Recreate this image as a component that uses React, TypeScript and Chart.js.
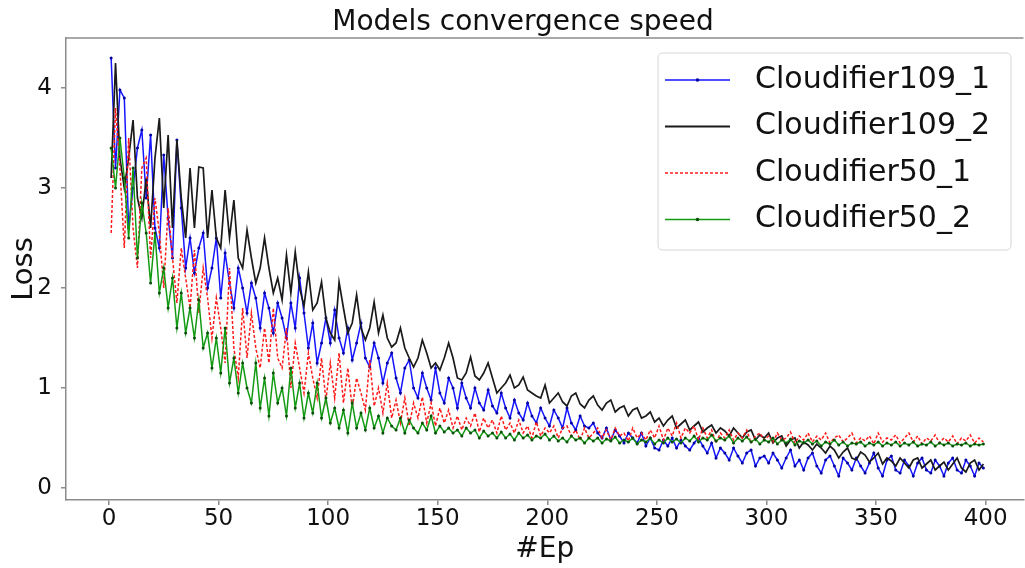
import React, { useEffect, useRef } from 'react';
import { Chart, registerables } from 'chart.js';

Chart.register(...registerables);

const FONT = 'DejaVu Sans';

const epochs = [
  1, 3, 5, 7, 9, 11, 13, 15, 17, 19, 21, 23, 25, 27, 29, 31, 33, 35, 37, 39,
  41, 43, 45, 47, 49, 51, 53, 55, 57, 59, 61, 63, 65, 67, 69, 71, 73, 75, 77, 79,
  81, 83, 85, 87, 89, 91, 93, 95, 97, 99, 101, 103, 105, 107, 109, 111, 113, 115, 117, 119,
  121, 123, 125, 127, 129, 131, 133, 135, 137, 139, 141, 143, 145, 147, 149, 151, 153, 155, 157, 159,
  161, 163, 165, 167, 169, 171, 173, 175, 177, 179, 181, 183, 185, 187, 189, 191, 193, 195, 197, 199,
  201, 203, 205, 207, 209, 211, 213, 215, 217, 219, 221, 223, 225, 227, 229, 231, 233, 235, 237, 239,
  241, 243, 245, 247, 249, 251, 253, 255, 257, 259, 261, 263, 265, 267, 269, 271, 273, 275, 277, 279,
  281, 283, 285, 287, 289, 291, 293, 295, 297, 299, 301, 303, 305, 307, 309, 311, 313, 315, 317, 319,
  321, 323, 325, 327, 329, 331, 333, 335, 337, 339, 341, 343, 345, 347, 349, 351, 353, 355, 357, 359,
  361, 363, 365, 367, 369, 371, 373, 375, 377, 379, 381, 383, 385, 387, 389, 391, 393, 395, 397, 399,
];

const cloudifier109_1 = [
  4.3, 3.2, 3.98, 3.9, 2.6, 3.0, 3.4, 3.58, 2.9, 3.53,
  2.6, 2.4, 3.33, 2.7, 2.3, 3.48, 2.8, 2.2, 2.5, 2.15,
  2.4, 2.55, 2.0, 2.2, 2.5, 1.9, 2.35, 2.05, 1.8, 2.2,
  2.0, 1.75, 2.05, 1.9, 1.6, 1.95, 1.8, 1.55, 1.85, 1.7,
  1.5, 1.85, 1.6, 2.1, 1.75, 1.4, 1.65, 1.25, 1.45, 1.7,
  1.45, 1.78, 1.5, 1.35, 1.6, 1.28, 1.45, 1.65, 1.3, 1.21,
  1.45, 1.3, 1.05, 1.25, 1.35, 1.1, 0.95, 1.2, 1.28, 1.0,
  0.9, 1.15, 1.0, 0.88, 1.2, 0.95, 0.85, 1.1, 1.0, 0.8,
  1.05, 0.9, 0.8, 1.0, 0.85, 0.78, 0.98, 0.82, 0.75, 0.95,
  0.8, 0.7, 0.88, 0.75, 0.68, 0.85, 0.72, 0.65, 0.8, 0.7,
  0.62, 0.78, 0.7, 0.6, 0.8, 0.65, 0.58, 0.72, 0.62, 0.6,
  0.65, 0.55, 0.5, 0.6, 0.48, 0.58, 0.52, 0.45, 0.55, 0.5,
  0.45, 0.55, 0.42, 0.5, 0.4, 0.38, 0.48, 0.42, 0.5, 0.4,
  0.48, 0.42, 0.38, 0.45, 0.5, 0.42, 0.35, 0.45, 0.3, 0.4,
  0.35, 0.28, 0.4, 0.32, 0.25, 0.35, 0.38, 0.22, 0.3, 0.32,
  0.25, 0.35, 0.28, 0.2, 0.3, 0.38, 0.22, 0.28, 0.18, 0.3,
  0.35, 0.22, 0.15, 0.28, 0.32, 0.22, 0.12, 0.3, 0.25, 0.18,
  0.3, 0.22, 0.15, 0.25, 0.35, 0.2, 0.12, 0.28, 0.32, 0.18,
  0.15, 0.28, 0.22, 0.12, 0.25, 0.3, 0.18, 0.15, 0.28, 0.22,
  0.12, 0.25, 0.3, 0.18, 0.15, 0.28, 0.22, 0.12, 0.25, 0.2,
];

const cloudifier109_2 = [
  3.1, 4.25, 3.3, 3.0, 3.3, 3.68, 2.9, 2.7, 3.1, 2.6,
  3.3, 3.7, 2.8, 3.53, 2.6, 3.48, 2.9, 2.5, 3.2, 2.6,
  3.21, 3.2, 2.5, 2.98, 2.5, 2.4, 2.98, 2.5, 2.88, 2.3,
  2.2, 2.58, 2.3, 2.05, 2.2, 2.5, 2.2, 1.95, 2.1, 1.88,
  2.33, 1.95, 2.36, 2.0, 1.82, 2.16, 1.78, 1.85, 2.06, 1.7,
  1.55, 1.48, 2.06, 1.8, 1.55, 1.65, 1.93, 1.6, 1.48, 1.6,
  1.86, 1.55, 1.73, 1.5, 1.41, 1.45, 1.6, 1.4, 1.3, 1.21,
  1.3, 1.48, 1.35, 1.2, 1.25, 1.18, 1.3, 1.45, 1.3, 1.1,
  1.08, 1.15, 1.31, 1.12, 1.08, 1.15, 1.25, 1.1, 0.95, 1.0,
  1.05, 1.13, 1.0, 1.03, 1.11, 0.98, 0.95, 0.92, 0.9, 1.03,
  0.85, 0.9, 0.95, 0.86, 0.82, 0.92, 0.95, 0.84, 0.8, 0.88,
  0.92, 0.83, 0.78, 0.85, 0.88, 0.76, 0.8, 0.82, 0.72, 0.78,
  0.8, 0.7, 0.72, 0.76, 0.66, 0.7, 0.62, 0.68, 0.72, 0.6,
  0.64, 0.68, 0.58, 0.62, 0.66, 0.56, 0.6, 0.63, 0.55, 0.6,
  0.57, 0.52, 0.6, 0.55, 0.5, 0.56, 0.58, 0.48, 0.53, 0.5,
  0.55, 0.45, 0.5, 0.52, 0.42, 0.48, 0.5, 0.4, 0.46, 0.43,
  0.38, 0.44, 0.4, 0.35, 0.42, 0.38, 0.3, 0.36, 0.4, 0.3,
  0.28, 0.36, 0.33, 0.26, 0.3, 0.35, 0.24, 0.3, 0.27, 0.22,
  0.3, 0.25, 0.2, 0.28, 0.3, 0.2, 0.24, 0.28, 0.18, 0.22,
  0.26, 0.18, 0.24, 0.3, 0.2, 0.16, 0.25, 0.28, 0.18, 0.24,
];

const cloudifier50_1 = [
  2.55, 3.8, 3.2, 2.4, 3.5, 2.6, 2.2, 3.2, 3.3, 2.3,
  2.9, 2.55, 2.0, 2.8, 2.3, 1.85, 2.4, 2.1, 1.8, 2.38,
  1.75, 2.2, 1.9, 1.5, 1.9, 1.6, 1.25, 2.2, 1.4, 1.1,
  1.8, 1.3, 1.75, 1.4, 1.2, 1.6, 1.25, 1.8, 1.3, 1.2,
  1.6, 1.0, 1.45, 1.2, 0.95, 1.35, 1.1, 0.9, 1.3, 0.88,
  1.25, 0.9, 1.35, 0.85, 1.2, 0.8, 1.1, 0.95, 0.78, 1.28,
  0.82, 1.0, 0.75, 1.05, 0.7, 0.88, 0.65, 0.9, 0.62, 0.85,
  0.7, 0.91, 0.65, 0.85, 0.62, 0.8, 0.65, 0.78, 0.6, 0.72,
  0.58, 0.7, 0.62, 0.75, 0.56, 0.7, 0.6, 0.68, 0.55, 0.72,
  0.58, 0.65, 0.55, 0.68, 0.55, 0.62, 0.5, 0.66, 0.52, 0.6,
  0.55, 0.62, 0.5, 0.6, 0.62, 0.52, 0.58, 0.48, 0.6, 0.5,
  0.55, 0.6, 0.5, 0.58, 0.48, 0.6, 0.52, 0.55, 0.47, 0.6,
  0.5, 0.55, 0.48, 0.58, 0.5, 0.62, 0.48, 0.6, 0.52, 0.65,
  0.5, 0.6, 0.55, 0.62, 0.48, 0.6, 0.5, 0.58, 0.45, 0.55,
  0.5, 0.58, 0.48, 0.55, 0.5, 0.58, 0.45, 0.52, 0.55, 0.48,
  0.52, 0.46, 0.55, 0.48, 0.5, 0.56, 0.45, 0.52, 0.48, 0.55,
  0.46, 0.52, 0.48, 0.55, 0.45, 0.5, 0.53, 0.46, 0.5, 0.55,
  0.45, 0.5, 0.47, 0.52, 0.44, 0.55, 0.46, 0.5, 0.48, 0.53,
  0.45, 0.5, 0.55, 0.46, 0.52, 0.44, 0.5, 0.47, 0.53, 0.45,
  0.5, 0.46, 0.52, 0.44, 0.5, 0.47, 0.53, 0.45, 0.5, 0.46,
];

const cloudifier50_2 = [
  3.4, 3.0, 3.5, 3.1, 2.5, 3.2, 2.3, 2.85, 2.55, 2.05,
  2.55, 1.95, 2.2, 1.8, 2.1, 1.6, 1.95, 1.55, 1.8, 1.5,
  1.88, 1.4, 1.55, 1.2, 1.5, 1.15, 1.6, 1.05, 1.3, 0.95,
  1.25, 1.0, 0.85, 1.25, 0.8, 1.1, 0.72, 1.15, 0.85, 1.0,
  0.72, 1.2, 0.8, 1.05, 0.7, 0.95, 0.75, 1.05, 0.7, 0.9,
  0.65, 0.8, 0.6, 0.78, 0.55, 0.85, 0.6, 0.75, 0.58, 0.8,
  0.6, 0.72, 0.55, 0.7, 0.62, 0.58, 0.7, 0.55, 0.68, 0.6,
  0.55, 0.65, 0.58, 0.72, 0.55, 0.62, 0.56, 0.6, 0.55, 0.58,
  0.52, 0.6, 0.55, 0.58, 0.5, 0.57, 0.52, 0.55, 0.5, 0.56,
  0.5, 0.54, 0.48, 0.55, 0.5, 0.53, 0.48, 0.52, 0.5, 0.54,
  0.48, 0.52, 0.47, 0.5, 0.46, 0.52, 0.48, 0.5, 0.45, 0.5,
  0.47, 0.5, 0.45, 0.49, 0.47, 0.51, 0.45, 0.48, 0.46, 0.5,
  0.44, 0.48, 0.46, 0.5, 0.44, 0.48, 0.45, 0.5, 0.46, 0.49,
  0.45, 0.5, 0.47, 0.52, 0.46, 0.5, 0.48, 0.53, 0.47, 0.5,
  0.48, 0.52, 0.45, 0.5, 0.47, 0.51, 0.46, 0.49, 0.44, 0.48,
  0.46, 0.5, 0.44, 0.48, 0.45, 0.49, 0.43, 0.47, 0.45, 0.48,
  0.44, 0.47, 0.42, 0.46, 0.44, 0.48, 0.43, 0.46, 0.42, 0.45,
  0.44, 0.46, 0.42, 0.45, 0.43, 0.46, 0.42, 0.45, 0.43, 0.46,
  0.42, 0.45, 0.43, 0.46, 0.42, 0.44, 0.43, 0.46, 0.42, 0.45,
  0.43, 0.45, 0.42, 0.44, 0.43, 0.45, 0.42, 0.44, 0.43, 0.44,
];

const seriesNames = ['Cloudifier109_1', 'Cloudifier109_2', 'Cloudifier50_1', 'Cloudifier50_2'];
const xTicks = [0, 50, 100, 150, 200, 250, 300, 350, 400];
const yTicks = [0, 1, 2, 3, 4];

const SPINE = '#8c8c8c';
const TEXT = '#111111';

type Style = { color: string; width: number; dash: number[]; point: number; pointColor: string; order: number };
const styles: Style[] = [
  { color: '#1515ff', width: 1.5, dash: [], point: 1.5, pointColor: '#0000a0', order: 3 },
  { color: '#1a1a1a', width: 1.7, dash: [], point: 0, pointColor: '#1a1a1a', order: 2 },
  { color: '#ff1a1a', width: 1.5, dash: [3, 2], point: 0, pointColor: '#ff1a1a', order: 1 },
  { color: '#139a13', width: 1.5, dash: [], point: 1.5, pointColor: '#0b4d0b', order: 0 },
];

const seriesValues = [cloudifier109_1, cloudifier109_2, cloudifier50_1, cloudifier50_2];

const legendPlugin = {
  id: 'customDecor',
  afterDraw(chart: any) {
    const { ctx, chartArea } = chart;
    ctx.save();
    ctx.strokeStyle = SPINE;
    ctx.lineWidth = 1.5;
    ctx.beginPath();
    ctx.moveTo(chartArea.left, chartArea.top);
    ctx.lineTo(chartArea.right, chartArea.top);
    ctx.stroke();

    const bx = 658, by = 53, bw = 353, bh = 197, r = 5;
    ctx.beginPath();
    ctx.moveTo(bx + r, by);
    ctx.lineTo(bx + bw - r, by);
    ctx.quadraticCurveTo(bx + bw, by, bx + bw, by + r);
    ctx.lineTo(bx + bw, by + bh - r);
    ctx.quadraticCurveTo(bx + bw, by + bh, bx + bw - r, by + bh);
    ctx.lineTo(bx + r, by + bh);
    ctx.quadraticCurveTo(bx, by + bh, bx, by + bh - r);
    ctx.lineTo(bx, by + r);
    ctx.quadraticCurveTo(bx, by, bx + r, by);
    ctx.closePath();
    ctx.fillStyle = 'rgba(255,255,255,0.85)';
    ctx.fill();
    ctx.strokeStyle = '#d6d6d6';
    ctx.lineWidth = 1;
    ctx.stroke();

    const rowY = [80, 126.5, 173, 219.5];
    seriesNames.forEach((name, i) => {
      const s = styles[i];
      const y = rowY[i];
      ctx.beginPath();
      ctx.setLineDash(s.dash);
      ctx.strokeStyle = s.color;
      ctx.lineWidth = i === 1 ? 2.2 : s.width;
      ctx.moveTo(665, y);
      ctx.lineTo(730, y);
      ctx.stroke();
      ctx.setLineDash([]);
      if (s.point > 0) {
        ctx.beginPath();
        ctx.fillStyle = s.pointColor;
        ctx.arc(697.5, y, 1.8, 0, Math.PI * 2);
        ctx.fill();
      }
      ctx.fillStyle = TEXT;
      ctx.font = `30px "${FONT}"`;
      ctx.textAlign = 'left';
      ctx.textBaseline = 'middle';
      ctx.fillText(name, 755, y);
    });
    ctx.restore();
  },
};

export default function App() {
  const ref = useRef<HTMLCanvasElement | null>(null);

  useEffect(() => {
    if (!ref.current) return;
    const datasets = seriesNames.map((name, i) => {
      const s = styles[i];
      return {
        label: name,
        data: epochs.map((e, j) => ({ x: e, y: seriesValues[i][j] })),
        borderColor: s.color,
        backgroundColor: s.pointColor,
        borderWidth: s.width,
        borderDash: s.dash,
        pointRadius: s.point,
        pointBorderWidth: 0,
        pointBackgroundColor: s.pointColor,
        pointHoverRadius: 0,
        tension: 0,
        fill: false,
        order: s.order,
      };
    });

    const tickFont = { family: FONT, size: 23 };
    const chart = new Chart(ref.current, {
      type: 'line',
      data: { datasets },
      plugins: [legendPlugin],
      options: {
        animation: false,
        responsive: false,
        maintainAspectRatio: false,
        events: [],
        layout: { padding: { left: 21, right: 0, top: 0, bottom: 0 } },
        plugins: {
          legend: { display: false },
          tooltip: { enabled: false },
          title: {
            display: true,
            text: 'Models convergence speed',
            color: TEXT,
            font: { family: FONT, size: 28, weight: 'normal', lineHeight: 1 },
            padding: { top: 9, bottom: 1 },
          },
        },
        scales: {
          x: {
            type: 'linear',
            min: -19.6,
            max: 417.3,
            afterBuildTicks: (s: any) => {
              s.ticks = xTicks.map((v) => ({ value: v }));
            },
            afterFit: (s: any) => {
              s.height = 68;
            },
            ticks: { font: tickFont, color: TEXT, padding: 0, maxRotation: 0, autoSkip: false },
            grid: { drawOnChartArea: false, drawTicks: true, tickLength: 5, color: SPINE, lineWidth: 1.5 },
            border: { display: true, color: SPINE, width: 1.5 },
            title: {
              display: true,
              text: '#Ep',
              color: TEXT,
              font: { family: FONT, size: 28 },
              padding: { top: 0, bottom: 1.4 },
            },
          },
          y: {
            type: 'linear',
            min: -0.12,
            max: 4.5,
            afterBuildTicks: (s: any) => {
              s.ticks = yTicks.map((v) => ({ value: v }));
            },
            afterFit: (s: any) => {
              s.width = 45;
            },
            ticks: { font: tickFont, color: TEXT, padding: 9, autoSkip: false },
            grid: { drawOnChartArea: false, drawTicks: true, tickLength: 5, color: SPINE, lineWidth: 1.5 },
            border: { display: true, color: SPINE, width: 1.5 },
            title: {
              display: true,
              text: 'Loss',
              color: TEXT,
              font: { family: FONT, size: 29 },
              padding: { top: -14.4, bottom: 0 },
            },
          },
        },
      } as any,
    });
    return () => chart.destroy();
  }, []);

  return (
    <div style={{ position: 'absolute', left: 0, top: 0, width: 1025, height: 568, background: '#ffffff' }}>
      <canvas ref={ref} width={1025} height={568} style={{ display: 'block', width: 1025, height: 568 }} />
    </div>
  );
}
